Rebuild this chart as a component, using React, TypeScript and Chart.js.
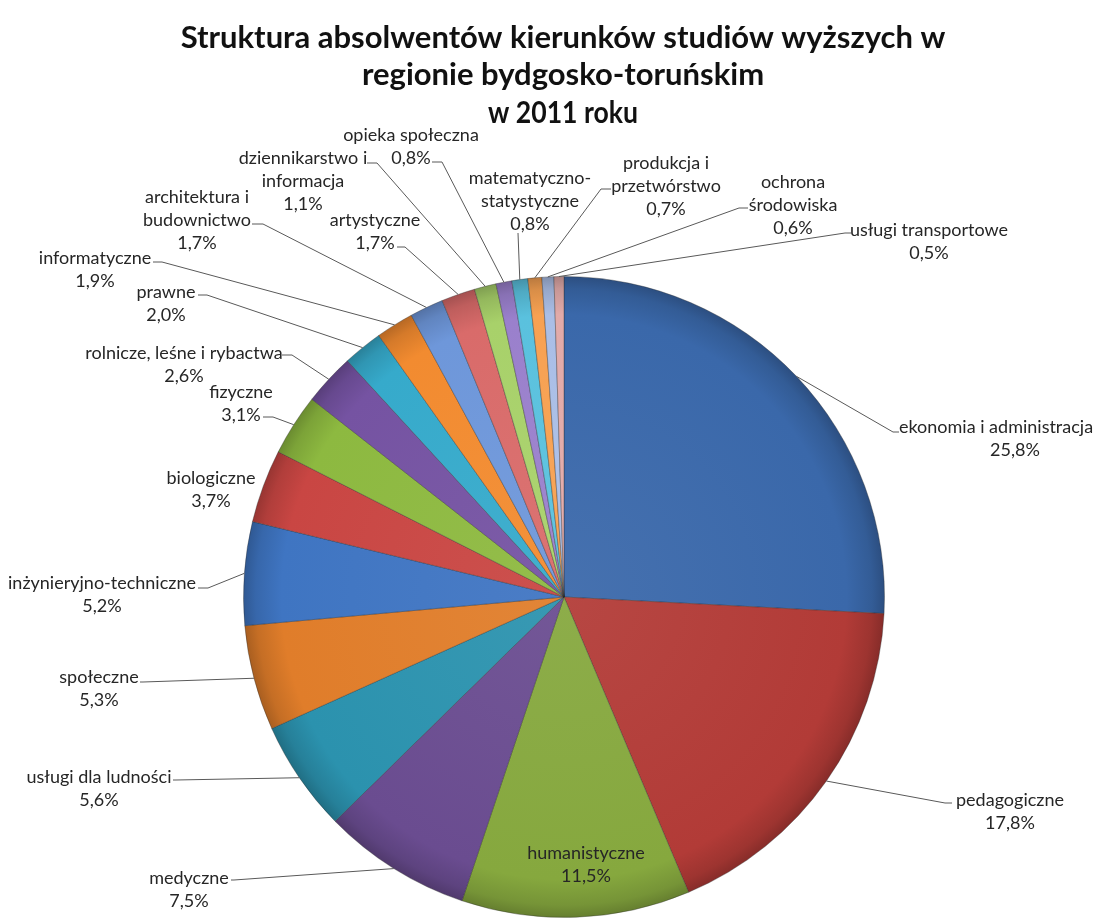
import React, { useEffect, useRef } from 'react';
import { Chart, registerables } from 'chart.js';

Chart.register(...registerables);

const titleLines = [
  'Struktura absolwentów kierunków studiów wyższych w',
  'regionie bydgosko-toruńskim',
  'w 2011 roku',
];

const categories = [
  'ekonomia i administracja',
  'pedagogiczne',
  'humanistyczne',
  'medyczne',
  'usługi dla ludności',
  'społeczne',
  'inżynieryjno-techniczne',
  'biologiczne',
  'fizyczne',
  'rolnicze, leśne i rybactwa',
  'prawne',
  'informatyczne',
  'architektura i budownictwo',
  'artystyczne',
  'dziennikarstwo i informacja',
  'opieka społeczna',
  'matematyczno-statystyczne',
  'produkcja i przetwórstwo',
  'ochrona środowiska',
  'usługi transportowe',
];

const values = [25.8, 17.8, 11.5, 7.5, 5.6, 5.3, 5.2, 3.7, 3.1, 2.6, 2.0, 1.9, 1.7, 1.7, 1.1, 0.8, 0.8, 0.7, 0.6, 0.5];

const colors = [
  '#3A68AA', '#B23B37', '#86A83E', '#6A4C90', '#2B92AE', '#E07D2A',
  '#3F75C2', '#C94643', '#8DB940', '#7553A2', '#36AACB', '#F28B30',
  '#6E97DA', '#D96B6A', '#A8D16A', '#9A80CC', '#5AC1DE', '#F7A152',
  '#AABEE6', '#E2AAA9',
];

// wrapped label lines (text only)
const labelLines = [
  ['ekonomia i administracja'],
  ['pedagogiczne'],
  ['humanistyczne'],
  ['medyczne'],
  ['usługi dla ludności'],
  ['społeczne'],
  ['inżynieryjno-techniczne'],
  ['biologiczne'],
  ['fizyczne'],
  ['rolnicze, leśne i rybactwa'],
  ['prawne'],
  ['informatyczne'],
  ['architektura i', 'budownictwo'],
  ['artystyczne'],
  ['dziennikarstwo i', 'informacja'],
  ['opieka społeczna'],
  ['matematyczno-', 'statystyczne'],
  ['produkcja i', 'przetwórstwo'],
  ['ochrona', 'środowiska'],
  ['usługi transportowe'],
];

// label placement (layout only): text centre x, first line y, leader elbow and tick end
const labelLayout = [
  { cx: 996, pcx: 1015, y: 427, ex: 893, ey: 432, tx: 899 },
  { cx: 1010, y: 800, ex: 945, ey: 803, tx: 952 },
  { cx: 586, y: 853 },
  { cx: 189, y: 878, ex: 234, ey: 880, tx: 231 },
  { cx: 99, y: 777, ex: 176, ey: 780, tx: 173 },
  { cx: 99, y: 677, ex: 143, ey: 682, tx: 140 },
  { cx: 102, y: 583, ex: 208, ey: 588, tx: 198 },
  { cx: 211, y: 478 },
  { cx: 241, y: 392, ex: 273, ey: 417, tx: 263 },
  { cx: 184, y: 353, ex: 292, ey: 355, tx: 282 },
  { cx: 166, y: 292, ex: 207, ey: 295, tx: 198 },
  { cx: 95, y: 258, ex: 162, ey: 262, tx: 153 },
  { cx: 197, y: 197, ex: 263, ey: 224, tx: 252 },
  { cx: 375, y: 220, ex: 405, ey: 247, tx: 397 },
  { cx: 303, y: 158, ex: 377, ey: 163, tx: 367 },
  { cx: 411, y: 135, ex: 442, ey: 162, tx: 432 },
  { cx: 530, y: 178, ex: 518, ey: 233 },
  { cx: 666, y: 163, ex: 601, ey: 189, tx: 611 },
  { cx: 793, y: 182, ex: 739, ey: 208, tx: 748 },
  { cx: 929, y: 230, ex: 845, ey: 233, tx: 851 },
];

const FONT = 'Lato, "Open Sans", "Liberation Sans", sans-serif';

function shade(hex: string, amt: number): string {
  const n = parseInt(hex.slice(1), 16);
  let r = (n >> 16) & 255, g = (n >> 8) & 255, b = n & 255;
  if (amt >= 0) {
    r = r + (255 - r) * amt; g = g + (255 - g) * amt; b = b + (255 - b) * amt;
  } else {
    r = r * (1 + amt); g = g * (1 + amt); b = b * (1 + amt);
  }
  return `rgb(${Math.round(r)},${Math.round(g)},${Math.round(b)})`;
}

const fmt = (v: number) => v.toFixed(1).replace('.', ',') + '%';

const titlePlugin = {
  id: 'customTitle',
  afterDraw(chart: any) {
    const ctx = chart.ctx;
    ctx.save();
    ctx.fillStyle = '#111';
    ctx.textAlign = 'center';
    ctx.textBaseline = 'middle';
    ctx.font = `bold 31px ${FONT}`;
    const ys = [38, 75, 113];
    const maxW = [780, 415, 150];
    titleLines.forEach((t, i) => {
      ctx.fillText(t, 563, ys[i], maxW[i]);
    });
    ctx.restore();
  },
};

const labelsPlugin = {
  id: 'pieLabels',
  afterDatasetsDraw(chart: any) {
    const ctx = chart.ctx;
    const meta = chart.getDatasetMeta(0);
    ctx.save();
    meta.data.forEach((arc: any, i: number) => {
      const p = arc.getProps(['x', 'y', 'startAngle', 'endAngle', 'outerRadius'], true);
      const mid = (p.startAngle + p.endAngle) / 2;
      const ax = p.x + Math.cos(mid) * p.outerRadius;
      const ay = p.y + Math.sin(mid) * p.outerRadius;
      const L: any = labelLayout[i];
      if (L.ex != null) {
        ctx.beginPath();
        ctx.strokeStyle = '#595959';
        ctx.lineWidth = 1;
        ctx.moveTo(ax, ay);
        ctx.lineTo(L.ex, L.ey);
        if (L.tx != null) ctx.lineTo(L.tx, L.ey);
        ctx.stroke();
      }
      const lines = [...labelLines[i], fmt(values[i])];
      ctx.fillStyle = '#262626';
      ctx.font = `18px ${FONT}`;
      ctx.textAlign = 'center';
      ctx.textBaseline = 'middle';
      lines.forEach((t, k) => {
        const isPct = k === lines.length - 1;
        const x = isPct && L.pcx != null ? L.pcx : L.cx;
        ctx.fillText(t, x, L.y + k * 23);
      });
    });
    ctx.restore();
  },
};

export default function App() {
  const ref = useRef<HTMLCanvasElement | null>(null);
  useEffect(() => {
    document.body.style.margin = '0';
    const canvas = ref.current;
    if (!canvas) return;
    const chart = new Chart(canvas, {
      type: 'pie',
      data: {
        labels: categories,
        datasets: [
          {
            data: values,
            backgroundColor: (c: any) => {
              const ch = c.chart;
              const area = ch.chartArea;
              const base = colors[c.dataIndex % colors.length];
              if (!area) return base;
              const cx = (area.left + area.right) / 2;
              const cy = (area.top + area.bottom) / 2;
              const r = Math.min(area.right - area.left, area.bottom - area.top) / 2;
              const g = ch.ctx.createRadialGradient(cx, cy, 0, cx, cy, r);
              g.addColorStop(0, shade(base, 0.06));
              g.addColorStop(0.88, base);
              g.addColorStop(0.96, shade(base, -0.12));
              g.addColorStop(1, shade(base, -0.25));
              return g;
            },
            borderColor: 'rgba(40,40,40,0.35)',
            borderWidth: 1,
          },
        ],
      },
      options: {
        animation: false,
        responsive: true,
        maintainAspectRatio: false,
        events: [],
        layout: { padding: { top: 276, bottom: -4, left: 241, right: 211 } },
        plugins: {
          legend: { display: false },
          title: { display: false },
          tooltip: { enabled: false },
        },
      },
      plugins: [labelsPlugin, titlePlugin],
    });
    return () => chart.destroy();
  }, []);
  return (
    <div style={{ position: 'absolute', left: 0, top: 0, width: 1098, height: 918, background: '#fff' }}>
      <canvas ref={ref} />
    </div>
  );
}
